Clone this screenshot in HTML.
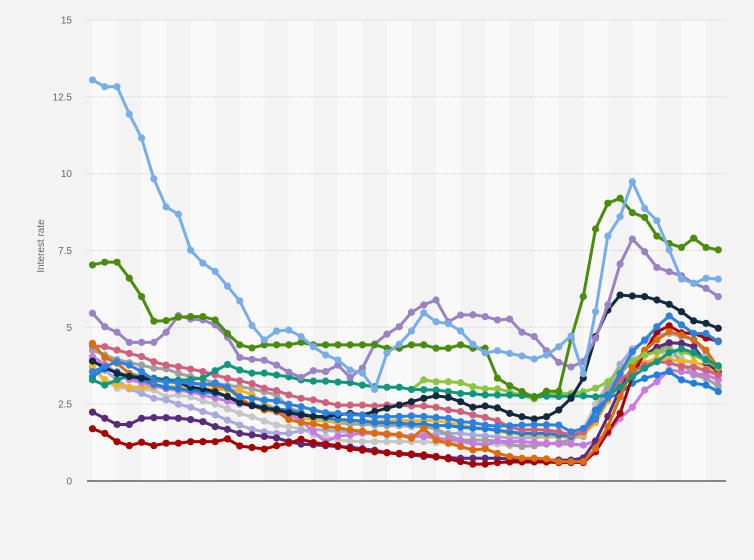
<!DOCTYPE html>
<html><head><meta charset="utf-8"><style>
html,body{margin:0;padding:0;background:#f3f3f3;}
svg{display:block;}
.s polyline{fill:none;stroke-width:3;vector-effect:non-scaling-stroke;stroke-linejoin:round;stroke-linecap:round;}
text{font-family:"Liberation Sans",sans-serif;fill:#666;}
</style></head><body>
<svg width="754" height="560" viewBox="0 0 754 560" xmlns="http://www.w3.org/2000/svg">
<defs>
<pattern id="bands" patternUnits="userSpaceOnUse" x="92.5" y="0" width="49.08" height="560"><rect x="0" y="0" width="24.54" height="560" fill="#f9f9f9"/></pattern>
<marker id="mA" markerUnits="userSpaceOnUse" overflow="visible"><ellipse rx="0.293" ry="0.117" fill="#78aee8"/></marker>
<marker id="mB" markerUnits="userSpaceOnUse" overflow="visible"><ellipse rx="0.293" ry="0.117" fill="#4a8c0b"/></marker>
<marker id="mC" markerUnits="userSpaceOnUse" overflow="visible"><ellipse rx="0.293" ry="0.117" fill="#9a82c4"/></marker>
<marker id="mD" markerUnits="userSpaceOnUse" overflow="visible"><ellipse rx="0.293" ry="0.117" fill="#14293d"/></marker>
<marker id="mE" markerUnits="userSpaceOnUse" overflow="visible"><ellipse rx="0.293" ry="0.117" fill="#11977c"/></marker>
<marker id="mF" markerUnits="userSpaceOnUse" overflow="visible"><ellipse rx="0.293" ry="0.117" fill="#8cc63f"/></marker>
<marker id="mG" markerUnits="userSpaceOnUse" overflow="visible"><ellipse rx="0.293" ry="0.117" fill="#a80000"/></marker>
<marker id="mH" markerUnits="userSpaceOnUse" overflow="visible"><ellipse rx="0.293" ry="0.117" fill="#5a2a7c"/></marker>
<marker id="mI" markerUnits="userSpaceOnUse" overflow="visible"><ellipse rx="0.293" ry="0.117" fill="#d0607c"/></marker>
<marker id="mJ" markerUnits="userSpaceOnUse" overflow="visible"><ellipse rx="0.293" ry="0.117" fill="#dd6c0a"/></marker>
<marker id="mK" markerUnits="userSpaceOnUse" overflow="visible"><ellipse rx="0.293" ry="0.117" fill="#2c82e0"/></marker>
<marker id="mL" markerUnits="userSpaceOnUse" overflow="visible"><ellipse rx="0.293" ry="0.117" fill="#1f7fdc"/></marker>
<marker id="mM" markerUnits="userSpaceOnUse" overflow="visible"><ellipse rx="0.293" ry="0.117" fill="#f0b429"/></marker>
<marker id="mN" markerUnits="userSpaceOnUse" overflow="visible"><ellipse rx="0.293" ry="0.117" fill="#a0a0a0"/></marker>
<marker id="mO" markerUnits="userSpaceOnUse" overflow="visible"><ellipse rx="0.293" ry="0.117" fill="#c6c6c6"/></marker>
<marker id="mP" markerUnits="userSpaceOnUse" overflow="visible"><ellipse rx="0.293" ry="0.117" fill="#a9a9dd"/></marker>
<marker id="mQ" markerUnits="userSpaceOnUse" overflow="visible"><ellipse rx="0.293" ry="0.117" fill="#c97ae0"/></marker>
</defs>
<rect x="0" y="0" width="754" height="560" fill="#f3f3f3"/>
<rect x="92.5" y="20" width="633.5" height="461" fill="url(#bands)"/>
<g stroke="#d2d2d2" stroke-width="1" stroke-dasharray="1 1">
<line x1="87" y1="20" x2="726" y2="20"/>
<line x1="87" y1="96.8" x2="726" y2="96.8"/>
<line x1="87" y1="173.7" x2="726" y2="173.7"/>
<line x1="87" y1="250.5" x2="726" y2="250.5"/>
<line x1="87" y1="327.3" x2="726" y2="327.3"/>
<line x1="87" y1="404.2" x2="726" y2="404.2"/>
</g>
<g font-size="10" text-anchor="end">
<text x="72" y="23.5">15</text>
<text x="72" y="100.3">12.5</text>
<text x="72" y="177.2">10</text>
<text x="72" y="254">7.5</text>
<text x="72" y="330.8">5</text>
<text x="72" y="407.7">2.5</text>
<text x="72" y="484.5">0</text>
</g>
<text x="0" y="0" font-size="10" text-anchor="middle" transform="translate(44,246) rotate(-90)">Interest rate</text>
<g class="s" transform="translate(92.5,481) scale(12.27,-30.733)">
<polyline style="stroke:#c6c6c6;marker:url(#mO)" points="0,3.6 1,3.3 2,3.02 3,3.02 4,2.96 5,2.96 6,2.74 7,2.8 8,2.74 9,2.6 10,2.5 11,2.35 12,2.2 13,2.09 14,1.95 15,1.82 16,1.76 17,1.71 18,1.5 19,1.44 20,1.33 21,1.3 22,1.28 23,1.28 24,1.28 25,1.28 26,1.28 27,1.28 28,1.25 29,1.25 30,1.25 31,1.22 32,1.2 33,1.2 34,1.15 35,1.15 36,1.15 37,1.2 38,1.25 39,1.35 40,1.7 41,2.5 42,3.2 43,3.7 44,4.0 45,4.1 46,4.2 47,4.1 48,4.0 49,3.8 50,3.5 51,3.3"/>
<polyline style="stroke:#a9a9dd;marker:url(#mP)" points="0,3.94 1,3.6 2,3.29 3,3.0 4,2.85 5,2.69 6,2.64 7,2.5 8,2.4 9,2.26 10,2.15 11,1.98 12,1.82 13,1.68 14,1.6 15,1.55 16,1.55 17,1.64 18,1.68 19,1.65 20,1.62 21,1.6 22,1.6 23,1.58 24,1.55 25,1.5 26,1.44 27,1.5 28,1.52 29,1.55 30,1.55 31,1.5 32,1.47 33,1.44 34,1.4 35,1.4 36,1.42 37,1.44 38,1.44 39,1.42 40,1.44 41,2.3 42,3.1 43,3.8 44,4.3 45,4.55 46,4.75 47,4.8 48,4.7 49,4.59 50,4.15 51,3.45"/>
<polyline style="stroke:#a0a0a0;marker:url(#mN)" points="0,4.26 1,4.1 2,3.95 3,3.85 4,3.77 5,3.67 6,3.65 7,3.5 8,3.4 9,3.3 10,3.2 11,3.1 12,3.07 13,3.0 14,2.9 15,2.8 16,2.37 17,2.25 18,1.98 19,1.95 20,1.9 21,1.85 22,1.85 23,1.82 24,1.8 25,1.8 26,1.78 27,1.77 28,1.7 29,1.5 30,1.33 31,1.33 32,1.33 33,1.3 34,1.2 35,1.12 36,1.15 37,1.2 38,1.25 39,1.33 40,1.6 41,2.31 42,3.0 43,3.5 44,3.9 45,4.1 46,4.21 47,4.43 48,3.83 49,3.45 50,3.34 51,3.09"/>
<polyline style="stroke:#f0b429;marker:url(#mM)" points="0,3.72 1,3.29 2,3.12 3,3.05 4,3.05 5,3.05 6,3.05 7,3.1 8,3.05 9,3.0 10,2.98 11,2.97 12,2.96 13,2.8 14,2.55 15,2.31 16,2.3 17,2.04 18,2.0 19,1.96 20,1.93 21,1.95 22,1.96 23,1.95 24,1.96 25,1.98 26,1.96 27,1.97 28,1.96 29,1.9 30,1.82 31,1.75 32,1.7 33,1.62 34,1.55 35,1.52 36,1.5 37,1.48 38,1.47 39,1.45 40,1.5 41,1.9 42,2.6 43,3.2 44,3.6 45,3.85 46,3.99 47,3.95 48,3.9 49,3.88 50,3.75 51,3.5"/>
<polyline style="stroke:#c97ae0;marker:url(#mQ)" points="0,4.05 1,3.8 2,3.5 3,3.3 4,3.2 5,3.1 6,3.0 7,2.95 8,2.9 9,2.8 10,2.7 11,2.6 12,2.5 13,2.45 14,2.37 15,2.25 16,2.15 17,1.98 18,1.6 19,1.28 20,1.46 21,1.5 22,1.55 23,1.55 24,1.5 25,1.5 26,1.45 27,1.45 28,1.4 29,1.35 30,1.3 31,1.23 32,1.17 33,1.3 34,1.28 35,1.28 36,1.25 37,1.23 38,1.2 39,1.2 40,1.17 41,1.3 42,1.55 43,2.04 44,2.4 45,2.96 46,3.23 47,3.61 48,3.56 49,3.5 50,3.45 51,3.29"/>
<polyline style="stroke:#1f7fdc;marker:url(#mL)" points="0,3.4 1,3.65 2,3.55 3,3.4 4,3.3 5,3.15 6,3.05 7,3.0 8,2.95 9,2.9 10,2.85 11,2.75 12,2.6 13,2.5 14,2.4 15,2.35 16,2.3 17,2.2 18,2.1 19,2.05 20,2.0 21,1.98 22,1.95 23,1.9 24,1.9 25,1.88 26,1.85 27,1.85 28,1.8 29,1.8 30,1.75 31,1.72 32,1.7 33,1.65 34,1.6 35,1.55 36,1.55 37,1.55 38,1.5 39,1.45 40,1.6 41,2.3 42,2.7 43,2.86 44,3.18 45,3.34 46,3.45 47,3.56 48,3.29 49,3.18 50,3.12 51,2.91"/>
<polyline style="stroke:#5a2a7c;marker:url(#mH)" points="0,2.24 1,2.04 2,1.84 3,1.84 4,2.04 5,2.06 6,2.06 7,2.04 8,2.0 9,1.93 10,1.77 11,1.68 12,1.55 13,1.5 14,1.45 15,1.4 16,1.28 17,1.2 18,1.18 19,1.15 20,1.12 21,1.1 22,1.05 23,1.0 24,0.92 25,0.88 26,0.85 27,0.8 28,0.78 29,0.76 30,0.74 31,0.74 32,0.74 33,0.74 34,0.72 35,0.7 36,0.7 37,0.68 38,0.68 39,0.68 40,0.75 41,1.3 42,2.1 43,3.0 44,3.7 45,4.1 46,4.35 47,4.5 48,4.48 49,4.37 50,3.85 51,3.56"/>
<polyline style="stroke:#a80000;marker:url(#mG)" points="0,1.7 1,1.55 2,1.28 3,1.15 4,1.26 5,1.15 6,1.23 7,1.23 8,1.28 9,1.28 10,1.28 11,1.37 12,1.14 13,1.09 14,1.04 15,1.15 16,1.23 17,1.36 18,1.25 19,1.2 20,1.15 21,1.05 22,1.0 23,0.95 24,0.92 25,0.9 26,0.88 27,0.85 28,0.8 29,0.72 30,0.63 31,0.55 32,0.55 33,0.6 34,0.62 35,0.62 36,0.62 37,0.62 38,0.6 39,0.6 40,0.6 41,0.95 42,1.6 43,2.2 44,3.4 45,4.2 46,4.85 47,5.05 48,4.82 49,4.8 50,4.65 51,4.55"/>
<polyline style="stroke:#d0607c;marker:url(#mI)" points="0,4.4 1,4.37 2,4.26 3,4.15 4,4.05 5,3.88 6,3.77 7,3.72 8,3.64 9,3.56 10,3.45 11,3.34 12,3.26 13,3.17 14,3.02 15,2.94 16,2.8 17,2.69 18,2.64 19,2.55 20,2.47 21,2.47 22,2.47 23,2.44 24,2.47 25,2.47 26,2.44 27,2.44 28,2.4 29,2.31 30,2.26 31,2.15 32,2.07 33,1.96 34,1.75 35,1.66 36,1.67 37,1.66 38,1.6 39,1.5 40,1.6 41,2.0 42,2.7 43,3.3 44,3.56 45,3.77 46,3.88 47,3.85 48,3.72 49,3.7 50,3.61 51,3.45"/>
<polyline style="stroke:#dd6c0a;marker:url(#mJ)" points="0,4.48 1,4.02 2,3.83 3,3.5 4,3.39 5,3.26 6,3.24 7,3.25 8,3.2 9,3.15 10,3.1 11,3.02 12,2.7 13,2.45 14,2.31 15,2.26 16,2.0 17,1.9 18,1.86 19,1.77 20,1.73 21,1.66 22,1.62 23,1.55 24,1.53 25,1.5 26,1.39 27,1.71 28,1.33 29,1.23 30,1.12 31,1.01 32,1.05 33,0.9 34,0.8 35,0.74 36,0.74 37,0.72 38,0.63 39,0.63 40,0.63 41,1.06 42,1.77 43,2.74 44,3.67 45,4.26 46,4.59 47,4.86 48,4.75 49,4.6 50,4.26 51,3.67"/>
<polyline style="stroke:#8cc63f;marker:url(#mF)" points="26,2.98 27,3.29 28,3.23 29,3.23 30,3.2 31,3.07 32,3.0 33,3.0 34,2.91 35,2.78 36,2.67 37,2.8 38,2.85 39,2.85 40,2.9 41,3.02 42,3.23 43,3.61 44,3.9 45,4.1 46,4.2 47,4.25 48,4.2 49,4.1 50,3.9 51,3.7"/>
<polyline style="stroke:#11977c;marker:url(#mE)" points="0,3.29 1,3.12 2,3.29 3,3.42 4,3.4 5,3.35 6,3.3 7,3.28 8,3.3 9,3.35 10,3.59 11,3.79 12,3.61 13,3.51 14,3.51 15,3.45 16,3.39 17,3.29 18,3.25 19,3.25 20,3.22 21,3.2 22,3.12 23,3.07 24,3.05 25,3.05 26,2.98 27,2.97 28,2.96 29,2.91 30,2.85 31,2.84 32,2.8 33,2.8 34,2.8 35,2.78 36,2.75 37,2.76 38,2.75 39,2.76 40,2.77 41,2.74 42,2.8 43,3.05 44,3.39 45,3.67 46,3.88 47,4.18 48,4.3 49,4.18 50,3.95 51,3.75"/>
<polyline style="stroke:#14293d;marker:url(#mD)" points="0,3.9 1,3.7 2,3.5 3,3.4 4,3.35 5,3.3 6,3.25 7,3.2 8,3.05 9,3.0 10,2.9 11,2.75 12,2.55 13,2.45 14,2.37 15,2.31 16,2.22 17,2.15 18,2.1 19,2.1 20,2.15 21,2.2 22,2.15 23,2.26 24,2.37 25,2.47 26,2.58 27,2.69 28,2.77 29,2.72 30,2.58 31,2.4 32,2.44 33,2.38 34,2.2 35,2.09 36,2.02 37,2.09 38,2.31 39,2.69 40,3.35 41,4.7 42,5.56 43,6.05 44,6.02 45,6.0 46,5.89 47,5.75 48,5.51 49,5.21 50,5.13 51,4.97"/>
<polyline style="stroke:#2c82e0;marker:url(#mK)" points="0,3.56 1,3.72 2,3.88 3,3.77 4,3.56 5,3.29 6,3.23 7,3.2 8,3.18 9,3.13 10,3.18 11,3.05 12,2.74 13,2.69 14,2.64 15,2.6 16,2.5 17,2.42 18,2.31 19,2.22 20,2.2 21,2.15 22,2.15 23,2.09 24,2.09 25,2.1 26,2.12 27,2.1 28,2.07 29,2.04 30,1.93 31,1.9 32,1.82 33,1.78 34,1.8 35,1.82 36,1.83 37,1.83 38,1.82 39,1.6 40,1.71 41,2.04 42,2.74 43,3.5 44,4.21 45,4.59 46,5.02 47,5.37 48,5.08 49,4.8 50,4.8 51,4.53"/>
<polyline style="stroke:#9a82c4;marker:url(#mC)" points="0,5.46 1,5.02 2,4.84 3,4.51 4,4.51 5,4.51 6,4.84 7,5.38 8,5.27 9,5.24 10,5.08 11,4.68 12,4.02 13,3.96 14,3.93 15,3.77 16,3.54 17,3.37 18,3.59 19,3.56 20,3.77 21,3.37 22,3.67 23,4.46 24,4.78 25,5.02 26,5.49 27,5.73 28,5.89 29,5.18 30,5.4 31,5.41 32,5.35 33,5.24 34,5.27 35,4.84 36,4.7 37,4.24 38,3.86 39,3.71 40,3.89 41,4.64 42,5.73 43,7.06 44,7.87 45,7.46 46,6.95 47,6.81 48,6.68 49,6.43 50,6.27 51,6.0"/>
<polyline style="stroke:#4a8c0b;marker:url(#mB)" points="0,7.03 1,7.12 2,7.12 3,6.6 4,6.0 5,5.2 6,5.22 7,5.33 8,5.35 9,5.35 10,5.24 11,4.8 12,4.43 13,4.33 14,4.43 15,4.43 16,4.43 17,4.51 18,4.43 19,4.43 20,4.43 21,4.43 22,4.43 23,4.43 24,4.32 25,4.32 26,4.43 27,4.43 28,4.32 29,4.32 30,4.43 31,4.32 32,4.32 33,3.35 34,3.1 35,2.91 36,2.72 37,2.92 38,2.92 39,4.62 40,6.0 41,8.2 42,9.04 43,9.2 44,8.73 45,8.58 46,7.97 47,7.73 48,7.6 49,7.9 50,7.6 51,7.52"/>
<polyline style="stroke:#78aee8;marker:url(#mA)" points="0,13.05 1,12.83 2,12.83 3,11.94 4,11.16 5,9.83 6,8.92 7,8.68 8,7.51 9,7.09 10,6.82 11,6.34 12,5.86 13,5.06 14,4.59 15,4.88 16,4.91 17,4.7 18,4.37 19,4.1 20,3.94 21,3.61 22,3.51 23,2.98 24,4.17 25,4.45 26,4.88 27,5.47 28,5.18 29,5.12 30,4.88 31,4.45 32,4.17 33,4.24 34,4.15 35,4.07 36,3.97 37,4.1 38,4.37 39,4.72 40,3.49 41,5.51 42,7.97 43,8.6 44,9.74 45,8.87 46,8.47 47,7.52 48,6.57 49,6.43 50,6.6 51,6.57"/>
</g>
<line x1="87" y1="481" x2="726" y2="481" stroke="#444" stroke-width="1.3"/>
</svg>
</body></html>
